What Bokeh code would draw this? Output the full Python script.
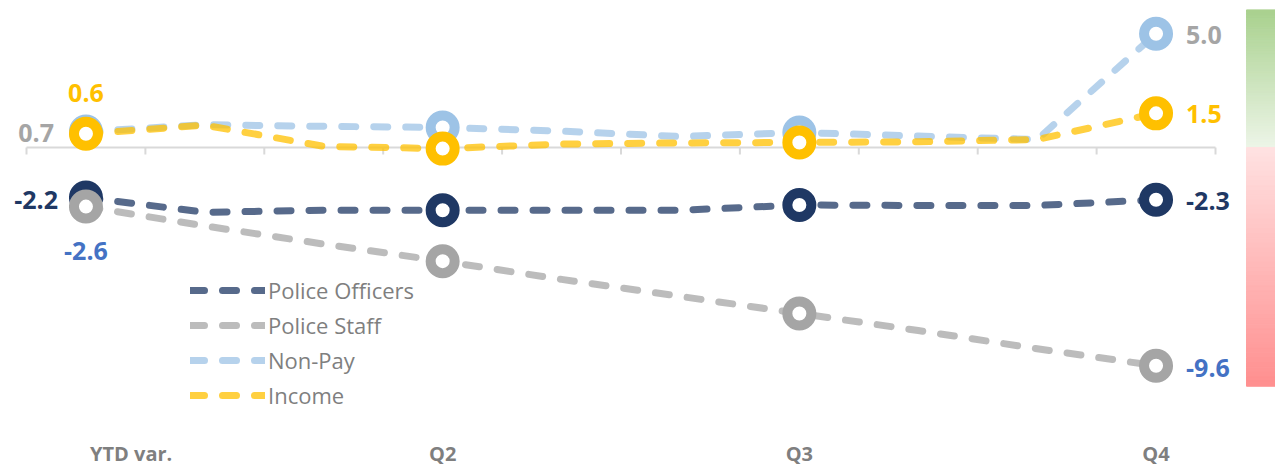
import numpy as np
from bokeh.plotting import figure
from bokeh.models import Range1d, FixedTicker, Legend, LegendItem
from bokeh.core.properties import value
from bokeh.embed import file_html
from bokeh.resources import INLINE

# ---------------- data ----------------
tick_labels = ["YTD var.", "", "", "Q2", "", "", "Q3", "", "", "Q4"]
police_officers = [-2.2, -2.85, -2.76, -2.76, -2.76, -2.76, -2.53, -2.55, -2.55, -2.3]
police_staff = [-2.6, -3.45, -4.25, -5.0, -5.8, -6.55, -7.3, -8.05, -8.85, -9.6]
non_pay = [0.7, 1.0, 0.93, 0.88, 0.72, 0.48, 0.66, 0.5, 0.35, 5.0]
income = [0.6, 0.98, 0.05, -0.05, 0.15, 0.2, 0.22, 0.25, 0.35, 1.5]
series_names = ["Police Officers", "Police Staff", "Non-Pay", "Income"]
marker_idx = [0, 3, 6, 9]
band_top, band_bottom = 6.05, -10.5

x = list(range(len(tick_labels)))

FONT = value("Open Sans")
PX_X = 118.9
PX_Y = 22.9
FRAME_H = 430

p = figure(width=1275, height=469, output_backend="svg", toolbar_location=None,
           x_range=Range1d(-0.5 - 26 / PX_X, 9.5 + 60 / PX_X),
           y_range=Range1d(-(FRAME_H - 148) / PX_Y, 148 / PX_Y),
           y_axis_location=None, min_border_left=0, min_border_right=0,
           min_border_top=0, min_border_bottom=469 - FRAME_H)
p.outline_line_color = None
p.xgrid.visible = False
p.ygrid.visible = False
p.background_fill_color = "white"
p.border_fill_color = "white"

# ---------------- gradient band (right) ----------------
def blend(c1, c2, t):
    a = np.array([int(c1[i:i + 2], 16) for i in (1, 3, 5)], float)
    b = np.array([int(c2[i:i + 2], 16) for i in (1, 3, 5)], float)
    c = a + (b - a) * t
    return "#%02x%02x%02x" % tuple(int(round(v)) for v in c)

n = 50
gy = np.linspace(0, band_top, n + 1)
gcol = [blend("#EDF5E8", "#A9D18E", (i + 0.5) / n) for i in range(n)]
ry = np.linspace(0, band_bottom, n + 1)
rcol = [blend("#FFE2E2", "#FF8F8F", (i + 0.5) / n) for i in range(n)]
bx0 = 9.5 + 31 / PX_X
bx1 = 9.5 + 60 / PX_X
p.quad(left=bx0, right=bx1, bottom=gy[:-1], top=gy[1:], fill_color=gcol, line_color=gcol, line_width=1)
p.quad(left=bx0, right=bx1, top=ry[:-1], bottom=ry[1:], fill_color=rcol, line_color=rcol, line_width=1)

# ---------------- zero axis line and ticks ----------------
bounds = [i - 0.5 for i in range(len(tick_labels) + 1)]
p.segment(x0=[bounds[0]], x1=[bounds[-1]], y0=[0], y1=[0], line_color="#D9D9D9", line_width=2)
p.segment(x0=bounds, x1=bounds, y0=[0] * len(bounds), y1=[-7 / PX_Y] * len(bounds),
          line_color="#D9D9D9", line_width=2)

# ---------------- series ----------------
marker_colors = ["#1F3864", "#A5A5A5", "#9DC3E6", "#FFC000"]
all_series = [police_officers, police_staff, non_pay, income]
items = []
for name, ys, col in zip(series_names, all_series, marker_colors):
    r = p.line(x, ys, line_color=col, line_alpha=0.75, line_width=7, line_dash="14 18",
               line_cap="round", line_join="round")
    items.append(LegendItem(label=name, renderers=[r]))
    p.scatter([x[i] for i in marker_idx], [ys[i] for i in marker_idx], marker="circle",
              size=24, fill_color="white", line_color=col, line_width=10)

# ---------------- data labels ----------------
def lab(xi, yv, color, dx, dy, align):
    p.text(x=[xi], y=[yv], text=["%.1f" % yv], text_color=color, text_align=align,
           text_baseline="middle", x_offset=dx, y_offset=dy, text_font=FONT,
           text_font_style="bold", text_font_size="25px")

lab(0, income[0], "#FFC000", 0, -41, "center")
lab(0, non_pay[0], "#A5A5A5", -32, 1, "right")
lab(0, police_officers[0], "#1F3864", -28, 3, "right")
lab(0, police_staff[0], "#4472C4", 0, 44, "center")
lab(9, non_pay[9], "#A5A5A5", 30, 1, "left")
lab(9, income[9], "#FFC000", 30, 1, "left")
lab(9, police_officers[9], "#1F3864", 30, 1, "left")
lab(9, police_staff[9], "#4472C4", 30, 2, "left")

# ---------------- x axis ----------------
tick_pos = [i for i, t in enumerate(tick_labels) if t]
tick_pos_draw = [0.38 if i == 0 else float(i) for i in tick_pos]
p.xaxis.ticker = FixedTicker(ticks=tick_pos_draw)
p.xaxis.major_label_overrides = {tp: tick_labels[i] for tp, i in zip(tick_pos_draw, tick_pos)}
p.xaxis.axis_line_color = None
p.xaxis.major_tick_line_color = None
p.xaxis.minor_tick_line_color = None
p.xaxis.major_tick_out = 0
p.xaxis.major_tick_in = 0
p.xaxis.major_label_standoff = 12
p.xaxis.major_label_text_font = "Open Sans"
p.xaxis.major_label_text_font_style = "bold"
p.xaxis.major_label_text_font_size = "20px"
p.xaxis.major_label_text_color = "#7F7F7F"

# ---------------- legend ----------------
legend = Legend(items=items, location=(190, 17), orientation="vertical",
                glyph_width=75, glyph_height=28, label_height=28, spacing=5,
                label_standoff=3, padding=0, margin=0,
                label_text_font="Open Sans", label_text_font_size="22px",
                label_text_color="#7F7F7F", border_line_color=None,
                background_fill_alpha=0)
p.add_layout(legend, "center")

open("out.html", "w").write(file_html(p, INLINE))
